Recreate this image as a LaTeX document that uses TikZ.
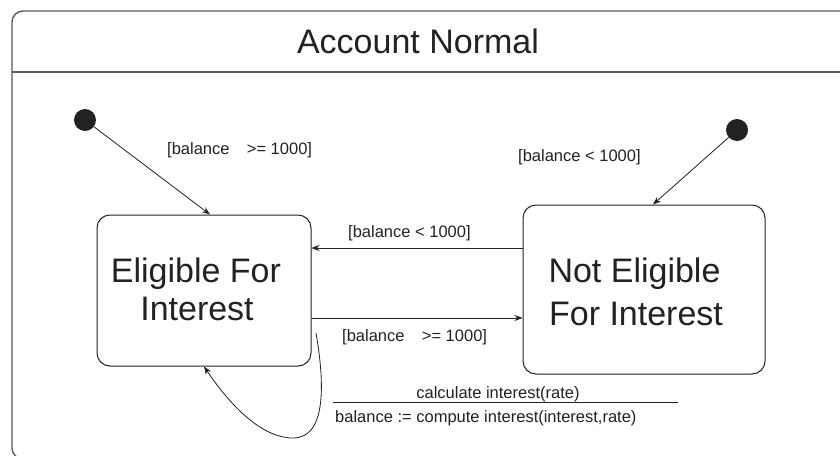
\documentclass[tikz,border=0pt]{standalone}
\usepackage{fontspec}
\setmainfont{Liberation Sans}
\usetikzlibrary{arrows.meta,calc}
\definecolor{ink}{HTML}{222222}
\definecolor{framegray}{HTML}{5A5A5A}
\tikzset{
  bigtext/.style={font=\fontsize{34}{40}\selectfont, text=ink, inner sep=0pt},
  smalltext/.style={font=\fontsize{16.5}{19}\selectfont, text=ink, inner sep=0pt},
  statebox/.style={draw=ink, line width=1pt, rounded corners=13pt, inner sep=0pt},
  initdot/.style={circle, fill=ink, minimum size=22pt, inner sep=0pt},
  trans/.style={draw=ink, line width=0.8pt, -{Stealth[length=8pt,width=6pt]}},
}
\begin{document}
\begin{tikzpicture}[x=1pt,y=-1pt]
\useasboundingbox (0,0) rectangle (840,455);
\fill[white] (0,0) rectangle (840,455);

% composite state frame with its title compartment
\begin{scope}
  \clip (0,0) rectangle (840,455);
  \draw[framegray, line width=1.4pt, rounded corners=11pt] (12,11) rectangle (870,459);
  \draw[framegray, line width=1.4pt] (12,72) -- (870,72);
\end{scope}
\node[bigtext, anchor=base] (title) at (418,53) {Account Normal};

% states
\node[statebox, minimum width=214pt, minimum height=151pt] (elig) at (204,290.5) {};
\node[statebox, minimum width=242pt, minimum height=169pt] (notelig) at (644,289.5) {};

% state names
\node[bigtext, anchor=base] (eligA) at (196,282) {Eligible For};
\node[bigtext, anchor=base] (eligB) at (197,320.5) {Interest};
\node[bigtext, anchor=base] (noteligA) at (634.5,282) {Not Eligible};
\node[bigtext, anchor=base] (noteligB) at (636,325) {For Interest};

% initial pseudostates
\node[initdot] (init1) at (85,120) {};
\node[initdot] (init2) at (737,130) {};

% transitions
\draw[trans] (init1) -- ([xshift=6pt]elig.north);
\draw[trans] (init2) -- ([xshift=9pt]notelig.north);
\draw[trans] ([yshift=41.5pt]notelig.west) -- ([yshift=41.5pt]notelig.west -| elig.east);
\draw[trans] ([yshift=-27.5pt]elig.east) -- ([yshift=-27.5pt]elig.east -| notelig.west);

% internal self transition
\coordinate (loopstart) at (316,333);
\draw[trans] (loopstart) .. controls (325,385) and (326,438) .. (293,438)
  .. controls (260,438) and (228,402) .. (elig.south);

% guards
\node[smalltext, anchor=west] (g1) at (167,150) {[balance\hspace{1.05em}>= 1000]};
\node[smalltext, anchor=west] (g2) at (518,157) {[balance < 1000]};
\node[smalltext, anchor=west] (g3) at (348,233) {[balance < 1000]};
\node[smalltext, anchor=west] (g4) at (342,337) {[balance\hspace{1.05em}>= 1000]};

% event / action label of the self transition
\node[smalltext] (evt) at (498,394) {calculate interest(rate)};
\coordinate (barl) at (333,402);
\coordinate (barr) at (678,402);
\draw[ink, line width=0.9pt] (barl) -- (barr);
\node[smalltext, anchor=west] (act) at (335,418) {balance := compute interest(interest,rate)};
\end{tikzpicture}
\end{document}
